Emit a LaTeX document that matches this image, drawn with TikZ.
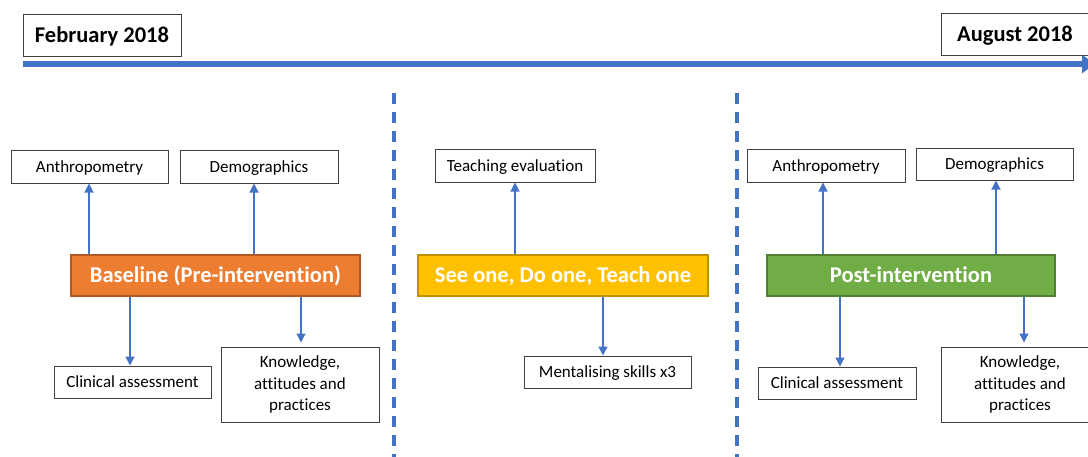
\documentclass[tikz,border=0pt]{standalone}
\usepackage{fontspec}
\setmainfont{Carlito}[Ligatures=NoCommon]
\usetikzlibrary{arrows.meta}
\definecolor{tlblue}{HTML}{4472C4}
\definecolor{orangefill}{HTML}{ED7D31}
\definecolor{orangeline}{HTML}{AE5A21}
\definecolor{goldfill}{HTML}{FFC000}
\definecolor{goldline}{HTML}{BF9000}
\definecolor{greenfill}{HTML}{70AD47}
\definecolor{greenline}{HTML}{507E32}
\definecolor{boxline}{HTML}{404040}
\tikzset{
  datebox/.style={draw=boxline, line width=1pt, fill=white, inner sep=0pt,
    font=\fontsize{22.5}{26}\selectfont\bfseries, text=black, text height=14.5pt, text depth=0pt},
  infobox/.style={draw=boxline, line width=1pt, fill=white, inner sep=0pt,
    font=\fontsize{17}{21.7}\selectfont, text=black, align=center},
  oneline/.style={infobox, text height=11pt, text depth=0pt},
  phasebox/.style={line width=1.2pt, inner sep=0pt, minimum width=289pt, minimum height=41pt,
    font=\fontsize{22.5}{26}\selectfont\bfseries, text=white, text height=14.5pt, text depth=0pt},
  conn/.style={draw=tlblue, line width=1.2pt, -{Triangle[width=9pt,length=9pt]}},
  timeline/.style={draw=tlblue, line width=6pt, -{Triangle[width=18pt,length=13pt]}},
  divider/.style={draw=tlblue, line width=3.5pt, dash pattern=on 11pt off 8pt}
}
\begin{document}
\begin{tikzpicture}[x=1pt,y=-1pt]
\useasboundingbox (0,0) rectangle (1088,456);
% timeline
\node[datebox, minimum width=158pt, minimum height=42pt] (feb) at (102,35) {February 2018};
\node[datebox, minimum width=148pt, minimum height=42pt] (aug) at (1015,34) {August 2018};
\coordinate (tlstart) at (23,64);
\coordinate (tlend) at (1095,64);
\draw[timeline] (tlstart) -- (tlend);
% dividers
\coordinate (d1top) at (394,93);
\coordinate (d1bot) at (394,460);
\coordinate (d2top) at (737,93);
\coordinate (d2bot) at (737,460);
\draw[divider] (d1top) -- (d1bot);
\draw[divider] (d2top) -- (d2bot);
% left
\node[oneline, minimum width=157pt, minimum height=33pt] (anth1) at (89.5,166.5) {Anthropometry};
\node[oneline, minimum width=158pt, minimum height=33pt] (dem1) at (259,166.5) {Demographics};
\node[phasebox, fill=orangefill, draw=orangeline] (base) at (215.5,275.5) {Baseline (Pre-intervention)};
\node[oneline, minimum width=157pt, minimum height=32pt] (clin1) at (132.5,382) {Clinical assessment};
\node[infobox, minimum width=158pt, minimum height=75pt] (know1) at (300,384.5) {Knowledge,\\attitudes and\\practices};
\draw[conn] ([xshift=-0.5pt]anth1.south |- base.north) -- ([xshift=-0.5pt]anth1.south);
\draw[conn] ([xshift=-5pt]dem1.south |- base.north) -- ([xshift=-5pt]dem1.south);
\draw[conn] ([xshift=-2.5pt]clin1.north |- base.south) -- ([xshift=-2.5pt]clin1.north);
\draw[conn] ([xshift=1pt]know1.north |- base.south) -- ([xshift=1pt,yshift=4pt]know1.north);
% middle
\node[oneline, minimum width=160pt, minimum height=33pt] (teach) at (515,165.5) {Teaching evaluation};
\node[phasebox, minimum width=290pt, fill=goldfill, draw=goldline] (see) at (563,275.5) {See one, Do one, Teach one};
\node[oneline, minimum width=167pt, minimum height=32pt] (ment) at (607.5,372) {Mentalising skills x3};
\draw[conn] (teach.south |- see.north) -- (teach.south);
\draw[conn] ([xshift=-4.5pt]ment.north |- see.south) -- ([xshift=-4.5pt]ment.north);
% right
\node[oneline, minimum width=158pt, minimum height=33pt] (anth2) at (826,165.5) {Anthropometry};
\node[oneline, minimum width=157pt, minimum height=32pt] (dem2) at (994.5,164) {Demographics};
\node[phasebox, minimum width=288pt, fill=greenfill, draw=greenline] (post) at (911,275.5) {Post-intervention};
\node[oneline, minimum width=158pt, minimum height=32pt] (clin2) at (837,383) {Clinical assessment};
\node[infobox, minimum width=158pt, minimum height=75pt] (know2) at (1020,384.5) {Knowledge,\\attitudes and\\practices};
\draw[conn] ([xshift=-3pt]anth2.south |- post.north) -- ([xshift=-3pt]anth2.south);
\draw[conn] ([xshift=1.5pt]dem2.south |- post.north) -- ([xshift=1.5pt]dem2.south);
\draw[conn] ([xshift=3pt]clin2.north |- post.south) -- ([xshift=3pt]clin2.north);
\draw[conn] ([xshift=4pt]know2.north |- post.south) -- ([xshift=4pt,yshift=4pt]know2.north);
\end{tikzpicture}
\end{document}
